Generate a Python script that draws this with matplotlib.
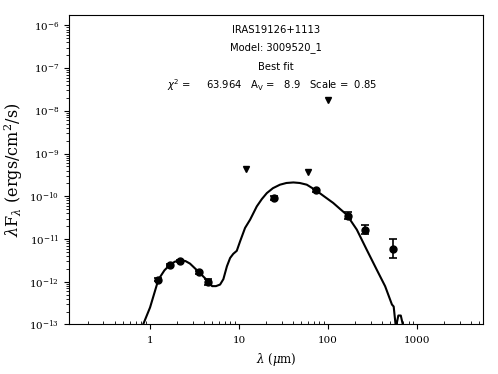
#!/usr/bin/env python3
"""SED fit of IRAS19126+1113: photometry, upper limits and best-fit model."""

import matplotlib

matplotlib.use("Agg")
import matplotlib.pyplot as plt
from matplotlib.ticker import FuncFormatter

# photometry with errors (um, erg/cm^2/s)
phot_wav = [1.24, 1.66, 2.16, 3.55, 4.5, 24.7, 73.0, 169.0, 260.0, 542.0]
phot_flux = [1.12e-12, 2.5e-12, 3.1e-12, 1.67e-12, 1.0e-12, 9.1e-11, 1.37e-10, 3.5e-11, 1.66e-11, 6.0e-12]
phot_err_lo = [0.08e-12, 0.15e-12, 0.2e-12, 0.12e-12, 0.18e-12, 1.1e-11, 0.8e-11, 0.6e-11, 0.35e-11, 2.4e-12]
phot_err_hi = [0.08e-12, 0.15e-12, 0.2e-12, 0.12e-12, 0.18e-12, 1.2e-11, 0.8e-11, 0.8e-11, 0.45e-11, 3.8e-12]

# upper limits
lim_wav = [12.0, 60.0, 100.0]
lim_flux = [4.35e-10, 3.8e-10, 1.8e-8]

# best-fit model curve
model_wav = [0.78, 1.0, 1.24, 1.45, 1.68, 1.9, 2.17, 2.5, 2.81, 3.55, 4.52, 4.97, 5.5, 6.12,
             6.66, 7.3, 7.93, 8.6, 9.42, 10.26, 11.67, 13.3, 15.8, 18.0, 20.5, 24.0, 28.8,
             34.0, 40.7, 48.0, 57.6, 73.3, 90.0, 114.0, 137.0, 162.0, 210.0, 271.0, 351.0,
             437.0, 521.0, 545.0, 577.0, 615.0, 655.0, 707.0]
model_flux = [7e-14, 2.5e-13, 1.12e-12, 1.85e-12, 2.52e-12, 2.95e-12, 3.2e-12, 3.05e-12,
              2.66e-12, 1.67e-12, 1.01e-12, 7.9e-13, 7.9e-13, 8.6e-13, 1.15e-12, 2.3e-12,
              3.6e-12, 4.5e-12, 5.3e-12, 8.8e-12, 1.82e-11, 2.84e-11, 5.8e-11, 8.6e-11,
              1.19e-10, 1.55e-10, 1.87e-10, 2.05e-10, 2.11e-10, 2.05e-10, 1.87e-10, 1.37e-10,
              1.0e-10, 7.0e-11, 5.0e-11, 3.7e-11, 1.66e-11, 5.65e-12, 1.93e-12, 7.85e-13,
              2.93e-13, 2.63e-13, 8.5e-14, 1.62e-13, 1.62e-13, 8.0e-14]

source = "IRAS19126+1113"
model_name = "3009520_1"
chi2, av, scale = 63.964, 8.9, 0.85

plt.rcParams["font.family"] = "serif"
plt.rcParams["font.serif"] = ["DejaVu Serif"]
plt.rcParams["mathtext.fontset"] = "dejavuserif"

fig = plt.figure(figsize=(4.98, 3.74), dpi=100)
ax = fig.add_axes([0.1386, 0.1324, 0.8307, 0.8283])

ax.plot(model_wav, model_flux, color="black", lw=1.5, zorder=2)
ax.errorbar(phot_wav, phot_flux, yerr=[phot_err_lo, phot_err_hi], fmt="o", color="black",
            ms=5, capsize=3, elinewidth=1.2, capthick=1.2, zorder=3)
ax.plot(lim_wav, lim_flux, "v", color="black", ms=5, zorder=3)

ax.set_xscale("log")
ax.set_yscale("log")
ax.set_xlim(0.123, 5450)
ax.set_ylim(1e-13, 1.78e-6)
ax.xaxis.set_major_formatter(FuncFormatter(lambda v, p: f"{v:g}"))
ax.tick_params(labelsize=7.5)
ax.tick_params(axis="x", which="major", pad=5)
ax.tick_params(axis="x", which="minor", direction="in", length=2.5)
ax.tick_params(axis="y", which="minor", length=2)

ax.set_xlabel(r"$\lambda$ ($\mu$m)", fontsize=8.5)
ax.set_ylabel(r"$\lambda$F$_\lambda$ (ergs/cm$^2$/s)", fontsize=11.5, labelpad=3)

sans = dict(family="DejaVu Sans", math_fontfamily="dejavusans", fontsize=7.2,
            transform=ax.transAxes, va="center")
ax.text(0.5, 0.951, source, ha="center", **sans)
ax.text(0.5, 0.8925, f"Model: {model_name}", ha="center", **sans)
ax.text(0.5, 0.831, "Best fit", ha="center", **sans)
ax.text(0.237, 0.773,
        rf"$\chi^2$ = {chi2:10.3f}   A$_\mathrm{{V}}$ = {av:5.1f}   Scale = {scale:5.2f}",
        ha="left", **sans)

fig.savefig("out.png", dpi=100)
